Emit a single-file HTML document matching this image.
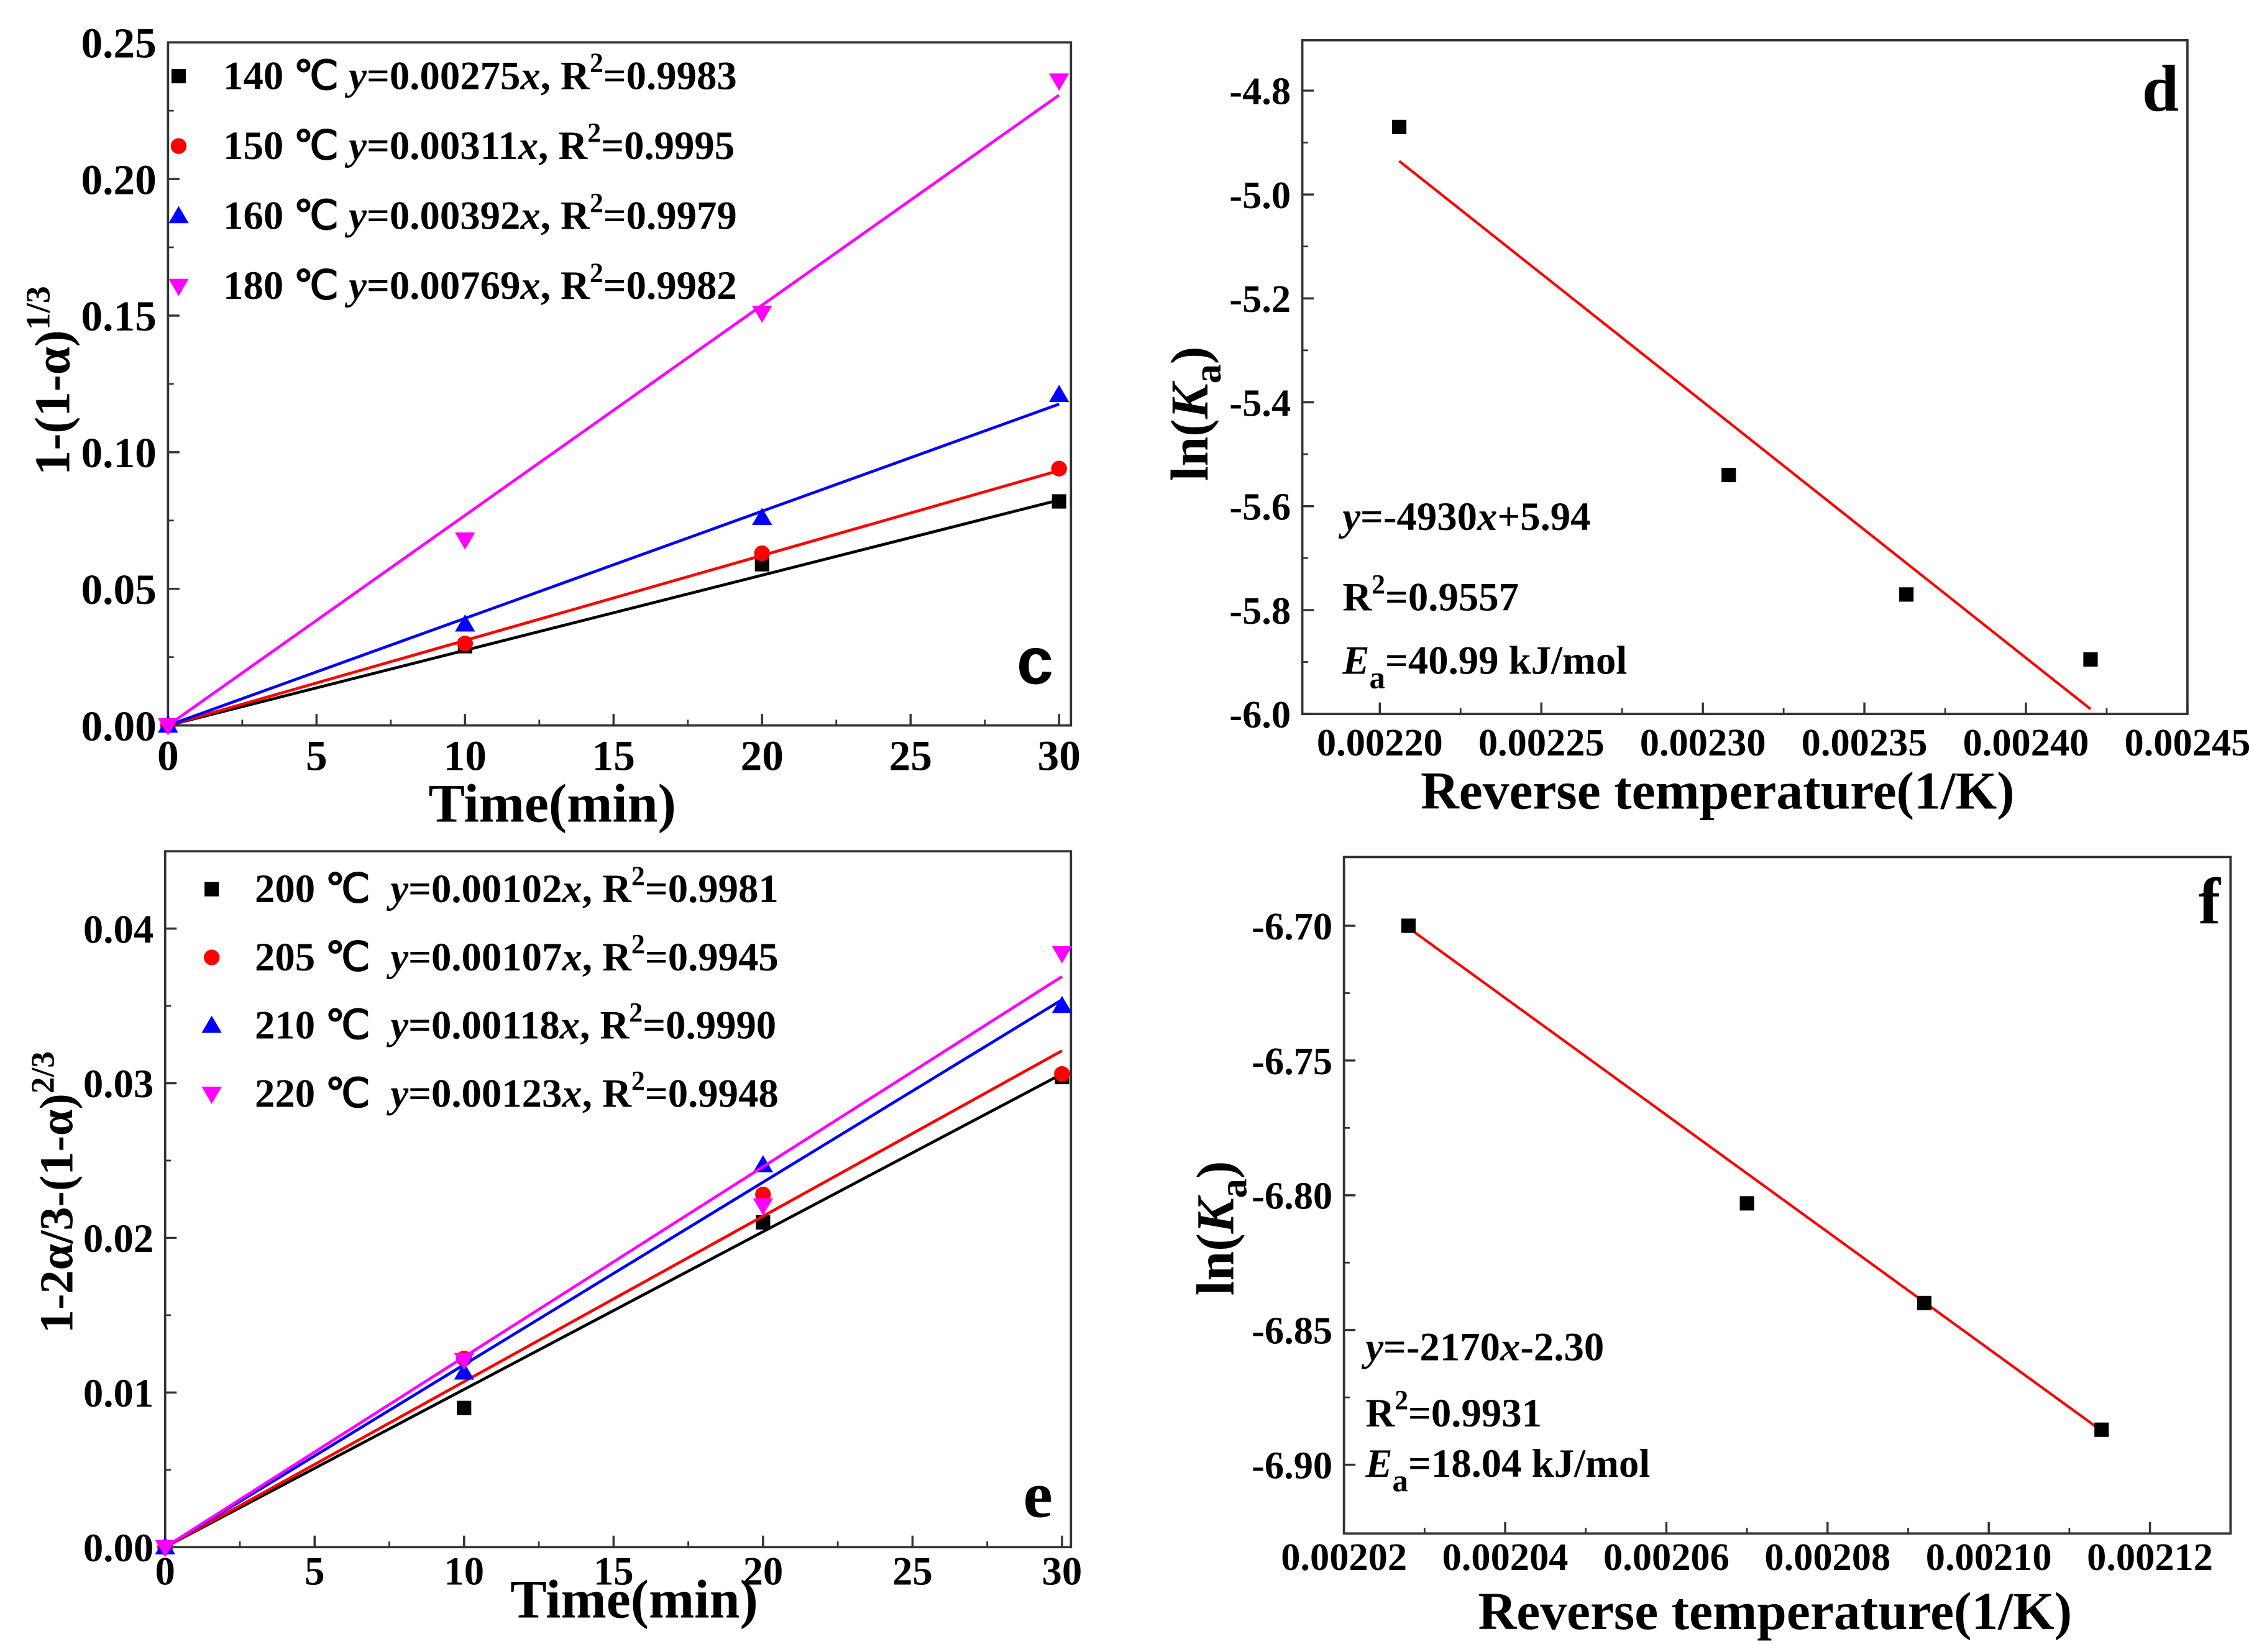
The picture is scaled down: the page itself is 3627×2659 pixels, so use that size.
<!DOCTYPE html>
<html><head><meta charset="utf-8"><style>
html,body{margin:0;padding:0;background:#fff;}
svg{display:block;font-family:"Liberation Serif",serif;font-weight:bold;}
</style></head><body>
<svg id="fig" xmlns="http://www.w3.org/2000/svg" width="3627" height="2659" viewBox="0 0 1568 1150"></svg>
<script>
// Panel c data
const cTimes = [0, 10, 20, 30];
const c140 = [0, 0.029, 0.059, 0.082];
const c150 = [0, 0.030, 0.063, 0.094];
const c160 = [0, 0.037, 0.076, 0.121];
const c180 = [0, 0.068, 0.151, 0.236];
const cSlopes = [0.00275, 0.00311, 0.00392, 0.00769];
const cLegend = ["140 ℃ ", "150 ℃ ", "160 ℃ ", "180 ℃ "];
const cEq = ["0.00275", "0.00311", "0.00392", "0.00769"];
const cR2 = ["0.9983", "0.9995", "0.9979", "0.9982"];
const cXTicks = [0, 5, 10, 15, 20, 25, 30];
const cYTicks = [0, 0.05, 0.10, 0.15, 0.20, 0.25];
// Panel e data
const eTimes = [0, 10, 20, 30];
const e200 = [0, 0.0090, 0.0210, 0.0304];
const e205 = [0, 0.0122, 0.0228, 0.0306];
const e210 = [0, 0.0113, 0.0247, 0.0350];
const e220 = [0, 0.0121, 0.0221, 0.0384];
const eSlopes = [0.00102, 0.00107, 0.00118, 0.00123];
const eLegend = ["200 ℃  ", "205 ℃  ", "210 ℃  ", "220 ℃  "];
const eEq = ["0.00102", "0.00107", "0.00118", "0.00123"];
const eR2 = ["0.9981", "0.9945", "0.9990", "0.9948"];
const eYTicks = [0, 0.01, 0.02, 0.03, 0.04];
// Panel d data
const dX = [0.002206, 0.002308, 0.002363, 0.002420];
const dY = [-4.87, -5.54, -5.77, -5.895];
const dFit = [-4930, 5.94];
const dXTicks = [0.00220, 0.00225, 0.00230, 0.00235, 0.00240, 0.00245];
const dYTicks = [-4.8, -5.0, -5.2, -5.4, -5.6, -5.8, -6.0];
// Panel f data
const fX = [0.002028, 0.002070, 0.002092, 0.002114];
const fY = [-6.700, -6.803, -6.840, -6.887];
const fFit = [-2170, -2.30];
const fXTicks = [0.00202, 0.00204, 0.00206, 0.00208, 0.00210, 0.00212];
const fYTicks = [-6.70, -6.75, -6.80, -6.85, -6.90];

const NS = "http://www.w3.org/2000/svg";
const svg = document.getElementById('fig');
function mk(tag, attrs, parent, text){
  const e = document.createElementNS(NS, tag);
  for (const k in attrs) e.setAttribute(k, attrs[k]);
  if (text !== undefined) e.textContent = text;
  (parent || svg).appendChild(e);
  return e;
}
function axes(p){
  const g = mk('g', {});
  
  
  p.sx = v => p.L + (v - p.x0) / (p.x1 - p.x0) * (p.R - p.L);
  p.sy = v => p.B - (v - p.y0) / (p.y1 - p.y0) * (p.B - p.T);
  const box = mk('rect', {x:p.L, y:p.T, width:p.R-p.L, height:p.B-p.T, fill:'none', stroke:'#333', 'stroke-width':1.6}, g);
  
  
  p.xt.forEach((v,i) => {
    const x = p.sx(v);
    mk('line', {x1:x, x2:x, y1:p.B, y2:p.B-8, stroke:'#333', 'stroke-width':1.5}, g);
    if (i < p.xt.length-1) { const xm = p.sx((v+p.xt[i+1])/2); mk('line',{x1:xm,x2:xm,y1:p.B,y2:p.B-4,stroke:'#333','stroke-width':1.2},g); }
    const t = mk('text', {x:x, y:p.xly, 'text-anchor':'middle', 'font-size':p.fs}, g, p.xf(v));
    
    
  });
  p.yt.forEach((v,i) => {
    const y = p.sy(v);
    mk('line', {x1:p.L, x2:p.L+8, y1:y, y2:y, stroke:'#333', 'stroke-width':1.5}, g);
    if (i < p.yt.length-1) { const ym = p.sy((v+p.yt[i+1])/2); mk('line',{x1:p.L,x2:p.L+4,y1:ym,y2:ym,stroke:'#333','stroke-width':1.2},g); }
    const t = mk('text', {x:p.L-8, y:y+p.fs*0.35, 'text-anchor':'end', 'font-size':p.fs}, g, p.yf(v));
    
    
  });
  return g;
}
function marker(g, type, x, y, color){
  let m;
  if (type === 'sq') m = mk('rect', {x:x-5, y:y-5, width:10, height:10, fill:color}, g);
  else if (type === 'ci') m = mk('circle', {cx:x, cy:y, r:5.5, fill:color}, g);
  else if (type === 'up') m = mk('polygon', {points:`${x},${y-7} ${x-7},${y+5} ${x+7},${y+5}`, fill:color}, g);
  else m = mk('polygon', {points:`${x},${y+7} ${x-7},${y-5} ${x+7},${y-5}`, fill:color}, g);
  
  
}
const colors = ['#000', '#f00', '#00f', '#f0f'];
const types = ['sq', 'ci', 'up', 'dn'];

// Panel c
const pc = {name:'panel-c', L:116.6, R:745, T:29.5, B:505, x0:0, x1:30.4, y0:0, y1:0.25, xt:cXTicks, yt:cYTicks, fs:30, xly:536, xf:v=>String(v), yf:v=>v.toFixed(2)};
const gc = axes(pc);
[c140, c150, c160, c180].forEach((s,i) => {
  const l = mk('line', {x1:pc.sx(0), y1:pc.sy(0), x2:pc.sx(30), y2:pc.sy(cSlopes[i]*30), stroke:colors[i], 'stroke-width':2}, gc);
  
  
  s.forEach((v,j) => marker(gc, types[i], pc.sx(cTimes[j]), pc.sy(v), colors[i]));
  const ly = 62 + i*48.7;
  marker(gc, types[i], 124, ly-9, colors[i]);
  const t = mk('text', {x:155, y:ly, 'font-size':28}, gc);
  
  
  t.innerHTML = `${cLegend[i]}<tspan font-style="italic">y</tspan>=${cEq[i]}<tspan font-style="italic">x</tspan>, R<tspan dy="-12" font-size="19">2</tspan><tspan dy="12">=${cR2[i]}</tspan>`;
});
mk('text', {x:720, y:476, 'font-size':46, 'font-family':'Liberation Sans, sans-serif', 'text-anchor':'middle'}, gc, 'c');
{const t = mk('text', {x:384, y:572, 'font-size':38, 'text-anchor':'middle'}, gc, 'Time(min)');  }
{const t = mk('text', {x:0, y:0, 'font-size':35, 'text-anchor':'middle', transform:'translate(48,265) rotate(-90)'}, gc); t.innerHTML='1-(1-α)<tspan dy="-14" font-size="24">1/3</tspan>';  }

// Panel e
const pe = {name:'panel-e', L:114.6, R:745, T:592.6, B:1077, x0:0, x1:30.3, y0:0, y1:0.045, xt:cXTicks, yt:eYTicks, fs:28, xly:1103, xf:v=>String(v), yf:v=>v.toFixed(2)};
const ge = axes(pe);
[e200, e205, e210, e220].forEach((s,i) => {
  const l = mk('line', {x1:pe.sx(0), y1:pe.sy(0), x2:pe.sx(30), y2:pe.sy(eSlopes[i]*30), stroke:colors[i], 'stroke-width':2}, ge);
  
  
  s.forEach((v,j) => marker(ge, types[i], pe.sx(eTimes[j]), pe.sy(v), colors[i]));
  const ly = 628 + i*47.5;
  marker(ge, types[i], 147, ly-9, colors[i]);
  const t = mk('text', {x:177, y:ly, 'font-size':28}, ge);
  
  
  t.innerHTML = `${eLegend[i].replace(/ /g,'\u00a0')}<tspan font-style="italic">y</tspan>=${eEq[i]}<tspan font-style="italic">x</tspan>, R<tspan dy="-12" font-size="19">2</tspan><tspan dy="12">=${eR2[i]}</tspan>`;
});
mk('text', {x:722, y:1056, 'font-size':46, 'text-anchor':'middle'}, ge, 'e');
{const t = mk('text', {x:441, y:1126, 'font-size':38, 'text-anchor':'middle'}, ge, 'Time(min)');  }
{const t = mk('text', {x:0, y:0, 'font-size':33, 'text-anchor':'middle', transform:'translate(50,830) rotate(-90)'}, ge); t.innerHTML='1-2α/3-(1-α)<tspan dy="-13" font-size="23">2/3</tspan>';  }

// Panel d
const pd = {name:'panel-d', L:906, R:1522, T:28, B:497, x0:0.002176, x1:0.00245, y0:-6.0, y1:-4.703, xt:dXTicks, yt:dYTicks, fs:27, xly:526, xf:v=>v.toFixed(5), yf:v=>v.toFixed(1)};
const gd = axes(pd);
{const l = mk('line', {x1:pd.sx(dX[0]), y1:pd.sy(dFit[0]*dX[0]+dFit[1]), x2:pd.sx(dX[3]), y2:pd.sy(dFit[0]*dX[3]+dFit[1]), stroke:'#f00', 'stroke-width':1.8}, gd);  }
dX.forEach((x,i) => marker(gd, 'sq', pd.sx(x), pd.sy(dY[i]), '#000'));
mk('text', {x:1516, y:77, 'font-size':46, 'text-anchor':'end'}, gd, 'd');
{const t = mk('text', {x:934, y:369, 'font-size':28}, gd); t.innerHTML='<tspan font-style="italic">y</tspan>=-4930<tspan font-style="italic">x</tspan>+5.94';}
{const t = mk('text', {x:934, y:425, 'font-size':28}, gd); t.innerHTML='R<tspan dy="-12" font-size="19">2</tspan><tspan dy="12">=0.9557</tspan>';}
{const t = mk('text', {x:934, y:469, 'font-size':28}, gd); t.innerHTML='<tspan font-style="italic">E</tspan><tspan dy="10" font-size="22">a</tspan><tspan dy="-10">=40.99 kJ/mol</tspan>';}
{const t = mk('text', {x:1195, y:563, 'font-size':37, 'text-anchor':'middle'}, gd, 'Reverse temperature(1/K)');  }
{const t = mk('text', {x:0, y:0, 'font-size':37, 'text-anchor':'middle', transform:'translate(840,288) rotate(-90)'}, gd); t.innerHTML='ln(<tspan font-style="italic">K</tspan><tspan dy="9" font-size="27">a</tspan><tspan dy="-9">)</tspan>';  }

// Panel f
const pf = {name:'panel-f', L:935, R:1552, T:596.6, B:1067.5, x0:0.00202, x1:0.00213, y0:-6.9255, y1:-6.6745, xt:fXTicks, yt:fYTicks, fs:27, xly:1093, xf:v=>v.toFixed(5), yf:v=>v.toFixed(2)};
const gf = axes(pf);
{const l = mk('line', {x1:pf.sx(fX[0]), y1:pf.sy(fFit[0]*fX[0]+fFit[1]), x2:pf.sx(fX[3]), y2:pf.sy(fFit[0]*fX[3]+fFit[1]), stroke:'#f00', 'stroke-width':1.8}, gf);  }
fX.forEach((x,i) => marker(gf, 'sq', pf.sx(x), pf.sy(fY[i]), '#000'));
mk('text', {x:1545, y:643, 'font-size':46, 'text-anchor':'end'}, gf, 'f');
{const t = mk('text', {x:950, y:947, 'font-size':28}, gf); t.innerHTML='<tspan font-style="italic">y</tspan>=-2170<tspan font-style="italic">x</tspan>-2.30';}
{const t = mk('text', {x:950, y:993, 'font-size':28}, gf); t.innerHTML='R<tspan dy="-12" font-size="19">2</tspan><tspan dy="12">=0.9931</tspan>';}
{const t = mk('text', {x:950, y:1028, 'font-size':28}, gf); t.innerHTML='<tspan font-style="italic">E</tspan><tspan dy="10" font-size="22">a</tspan><tspan dy="-10">=18.04 kJ/mol</tspan>';}
{const t = mk('text', {x:1235, y:1134, 'font-size':37, 'text-anchor':'middle'}, gf, 'Reverse temperature(1/K)');  }
{const t = mk('text', {x:0, y:0, 'font-size':37, 'text-anchor':'middle', transform:'translate(858,855) rotate(-90)'}, gf); t.innerHTML='ln(<tspan font-style="italic">K</tspan><tspan dy="9" font-size="27">a</tspan><tspan dy="-9">)</tspan>';  }
</script>
</body></html>
